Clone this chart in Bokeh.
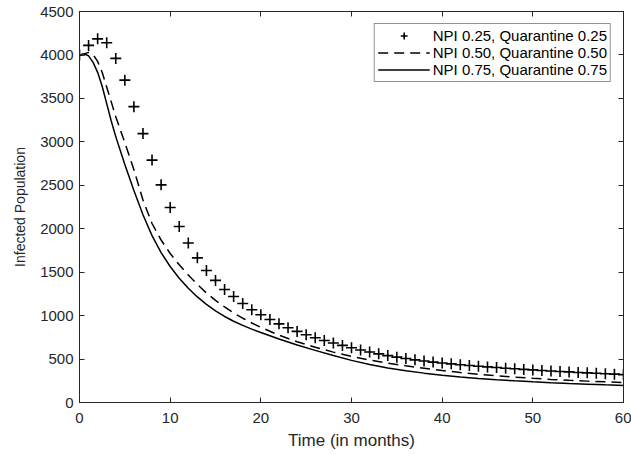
from bokeh.plotting import figure
from bokeh.models import LinearAxis, FixedTicker, Legend, LegendItem
from bokeh.embed import file_html
from bokeh.resources import INLINE

# Data
months_plus = list(range(0, 61))
npi_025 = [4000, 4110, 4185, 4140, 3960, 3710, 3405, 3095, 2790, 2505,
           2245, 2025, 1835, 1665, 1520, 1405, 1300, 1220, 1140, 1068,
           1010, 955, 905, 860, 818, 780, 745, 714, 684, 657,
           630, 605, 582, 560, 540, 522, 506, 491, 477, 465,
           455, 445, 435, 426, 418, 410, 402, 395, 388, 381,
           375, 369, 363, 357, 352, 346, 341, 336, 331, 326, 321]

months_line = [0, 0.5, 1, 1.5, 2, 2.5, 3, 3.5, 4, 5, 6, 7, 8, 9, 10, 11, 12, 13, 14, 15,
               16, 17, 18, 19, 20, 22, 24, 26, 28, 30, 32, 34, 36, 38, 40, 42, 44, 46,
               48, 50, 52, 54, 56, 58, 60]
npi_050 = [4000, 4012, 4030, 4005, 3925, 3800, 3630, 3460, 3290, 2990, 2680, 2330, 2060,
           1870, 1715, 1585, 1468, 1360, 1260, 1175, 1100, 1030, 970, 915, 865, 775, 700,
           635, 580, 530, 488, 452, 422, 395, 368, 345, 325, 307, 292, 278, 266, 255, 246,
           238, 230]
npi_075 = [4000, 4012, 3990, 3915, 3800, 3640, 3440, 3240, 3060, 2740, 2440, 2160, 1920,
           1725, 1565, 1430, 1315, 1215, 1130, 1055, 990, 935, 888, 845, 805, 730, 662,
           600, 540, 485, 437, 398, 366, 338, 314, 294, 277, 262, 249, 238, 228, 219, 211,
           203, 196]

labels = ["NPI 0.25, Quarantine 0.25", "NPI 0.50, Quarantine 0.50", "NPI 0.75, Quarantine 0.75"]
x_ticks = [0, 10, 20, 30, 40, 50, 60]
y_ticks = list(range(0, 4501, 500))

FONT = "Liberation Sans"
AX = "#262626"

p = figure(width=631, height=454, x_range=(0, 60), y_range=(0, 4500),
           output_backend="svg", toolbar_location=None,
           min_border_left=79, min_border_right=8, min_border_top=11, min_border_bottom=52)
p.frame_width = 544
p.frame_height = 391
p.grid.visible = False
p.outline_line_color = AX
p.outline_line_width = 1
p.background_fill_color = "white"
p.border_fill_color = "white"

for ax, ticks in ((p.xaxis[0], x_ticks), (p.yaxis[0], y_ticks)):
    ax.ticker = FixedTicker(ticks=ticks)
    ax.major_tick_in = 5
    ax.major_tick_out = 0
    ax.minor_tick_line_color = None
    ax.axis_line_color = AX
    ax.major_tick_line_color = AX
    ax.major_label_text_font = FONT
    ax.major_label_text_font_size = "15px"
    ax.major_label_text_color = AX
    ax.axis_label_text_font = FONT
    ax.axis_label_text_font_style = "normal"
    ax.axis_label_text_color = AX

p.xaxis[0].axis_label = "Time (in months)"
p.yaxis[0].axis_label = "Infected Population"
p.xaxis[0].axis_label_text_font_size = "17px"
p.yaxis[0].axis_label_text_font_size = "14px"
p.xaxis[0].major_label_standoff = 10
p.xaxis[0].axis_label_standoff = 5
p.yaxis[0].major_label_standoff = 6
p.yaxis[0].axis_label_standoff = 9

# mirror ticks on top and right (no labels)
top = LinearAxis(ticker=FixedTicker(ticks=x_ticks), major_tick_in=5, major_tick_out=0,
                 minor_tick_line_color=None, major_label_overrides={t: "" for t in x_ticks},
                 axis_line_color=AX, major_tick_line_color=AX, major_label_standoff=0)
right = LinearAxis(ticker=FixedTicker(ticks=y_ticks), major_tick_in=5, major_tick_out=0,
                   minor_tick_line_color=None, major_label_overrides={t: "" for t in y_ticks},
                   axis_line_color=AX, major_tick_line_color=AX, major_label_standoff=0)
p.add_layout(top, "above")
p.add_layout(right, "right")

r1 = p.scatter(months_plus, npi_025, marker="cross", size=11, line_width=1.6, line_color="black")
r2 = p.line(months_line, npi_050, line_dash="10 6", line_width=1.5, line_color="black")
r3 = p.line(months_line, npi_075, line_width=1.5, line_color="black")

legend = Legend(items=[LegendItem(label=labels[0], renderers=[r1]),
                       LegendItem(label=labels[1], renderers=[r2]),
                       LegendItem(label=labels[2], renderers=[r3])],
                location="top_right")
legend.margin = 12
legend.padding = 3
legend.spacing = 0
legend.glyph_width = 52
legend.glyph_height = 17
legend.label_height = 17
legend.label_standoff = 3
legend.label_text_font = FONT
legend.label_text_font_size = "15px"
legend.label_text_color = "black"
legend.border_line_color = AX
legend.border_line_width = 1
legend.background_fill_alpha = 1
p.add_layout(legend, "center")

open("out.html", "w").write(file_html(p, INLINE))
